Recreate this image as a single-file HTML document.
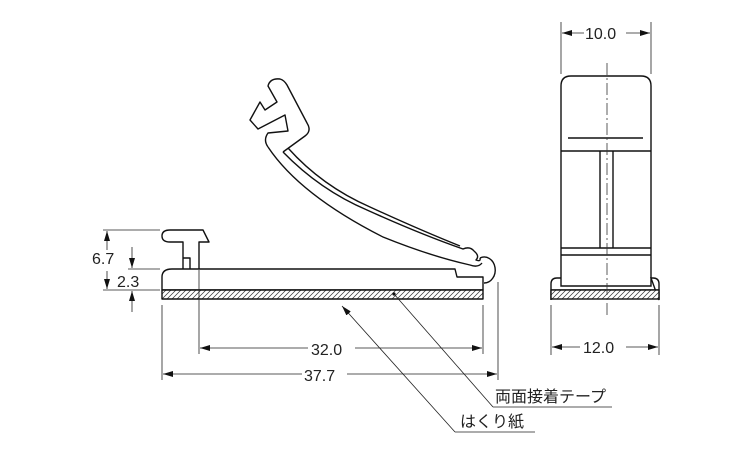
<!DOCTYPE html>
<html><head><meta charset="utf-8"><style>
html,body{margin:0;padding:0;background:#fff;width:750px;height:450px;overflow:hidden}
text{font-family:"Liberation Sans","Noto Sans CJK JP",sans-serif;font-size:16px;fill:#222}
</style></head><body>
<svg width="750" height="450" viewBox="0 0 750 450" xmlns="http://www.w3.org/2000/svg">
<defs>
<pattern id="h" width="5" height="10" patternUnits="userSpaceOnUse" patternTransform="skewX(-45)">
<rect width="5" height="10" fill="#fff"/><line x1="1" y1="0" x2="1" y2="10" stroke="#333" stroke-width="1"/>
</pattern>
<marker id="a" viewBox="0 0 10 6" refX="10" refY="3" markerWidth="10" markerHeight="6" orient="auto-start-reverse" markerUnits="userSpaceOnUse"><path d="M0,0 L10,3 L0,6 z" fill="#111"/></marker>
</defs>
<g fill="none" stroke="#111" stroke-width="1.4" stroke-linejoin="round">
<path d="M162,290 L162,277 Q162,269 172,269 L455,269 L457,277 L483,277 L483,290 Z" fill="#fff"/>
<rect x="162" y="290" width="321" height="9" fill="url(#h)"/>
<path d="M183,269 L183,242 L170,242 Q162,242 162,236 Q162,230 170,230 L203,230 L209,242 L199,242 L199,269 M190,269 L190,258 L183,258" />
<path d="M480,258 A11,13 0 1 1 484,283"/>
<path d="M268,147 Q300,195 383,237 Q430,256 470,265 Q478,268 482,263" />
<path d="M283,152 Q320,190 367,210 Q420,234 463,249 Q470,246 474,251 Q480,256 476,260 Q481,262 480,258"/>
<path d="M288,148 Q322,186 370,207 Q420,230 460,246"/>
<path d="M268,147 Q263,140 268,133 L288,131 L285,115 L258,129 L250,120 L260,102 L265,110 L277,102 L268,86 Q270,78 280,79 Q284,80 287,85 L307,123 Q312,131 305,136 L283,152"/>
</g>
<g fill="none" stroke="#111" stroke-width="1.4">
<path d="M561,286 L561,86 Q561,76 571,76 L641,76 Q651,76 651,86 L651,286 Z" fill="#fff"/>
<path d="M551,300 L551,284 Q551,278 557,278 L561,278 M651,278 L653,278 Q659,278 659,284 L659,300 Z" />
<line x1="551" y1="290" x2="659" y2="290"/>
<rect x="551" y="290" width="108" height="9" fill="url(#h)"/>
<line x1="568" y1="138" x2="643" y2="138"/>
<line x1="561" y1="151" x2="651" y2="151"/>
<line x1="561" y1="248" x2="651" y2="248"/>
<line x1="561" y1="255" x2="651" y2="255"/>
<line x1="600" y1="151" x2="600" y2="248"/>
<line x1="613" y1="151" x2="613" y2="248"/>
</g>
<line x1="607" y1="63" x2="607" y2="315" stroke="#333" stroke-width="0.8" stroke-dasharray="12,3,2,3"/>
<g stroke="#222" stroke-width="0.8" fill="none">
<line x1="103" y1="230" x2="160" y2="230"/>
<line x1="128" y1="269" x2="160" y2="269"/>
<line x1="103" y1="290" x2="160" y2="290"/>
<line x1="107" y1="250" x2="107" y2="231" marker-end="url(#a)"/>
<line x1="107" y1="271" x2="107" y2="289" marker-end="url(#a)"/>
<line x1="132" y1="247" x2="132" y2="268" marker-end="url(#a)"/>
<line x1="132" y1="312" x2="132" y2="291" marker-end="url(#a)"/>
<line x1="162" y1="305" x2="162" y2="380"/>
<line x1="199" y1="270" x2="199" y2="354"/>
<line x1="483" y1="305" x2="483" y2="354"/>
<line x1="498" y1="282" x2="498" y2="380"/>
<line x1="200" y1="348" x2="308" y2="348" marker-start="url(#a)"/>
<line x1="355" y1="348" x2="482" y2="348" marker-end="url(#a)"/>
<line x1="163" y1="374" x2="302" y2="374" marker-start="url(#a)"/>
<line x1="347" y1="374" x2="497" y2="374" marker-end="url(#a)"/>
<line x1="561" y1="22" x2="561" y2="74"/>
<line x1="651" y1="22" x2="651" y2="74"/>
<line x1="562" y1="33" x2="584" y2="33" marker-start="url(#a)"/>
<line x1="626" y1="33" x2="650" y2="33" marker-end="url(#a)"/>
<line x1="551" y1="305" x2="551" y2="355"/>
<line x1="659" y1="305" x2="659" y2="355"/>
<line x1="552" y1="347" x2="580" y2="347" marker-start="url(#a)"/>
<line x1="626" y1="347" x2="658" y2="347" marker-end="url(#a)"/>
<line x1="455" y1="432" x2="342" y2="306" marker-end="url(#a)"/>
<line x1="455" y1="432" x2="535" y2="432"/>
<line x1="493" y1="407" x2="394" y2="294"/>
<line x1="493" y1="407" x2="612" y2="407"/>
</g>
<circle cx="394" cy="294" r="1.6" fill="#111"/>
<text x="92" y="264">6.7</text>
<text x="117" y="287">2.3</text>
<text x="311" y="355">32.0</text>
<text x="304" y="381">37.7</text>
<text x="585" y="39">10.0</text>
<text x="583" y="353">12.0</text>
<text x="495" y="402">両面接着テープ</text>
<text x="460" y="427">はくり紙</text>
</svg>
</body></html>
